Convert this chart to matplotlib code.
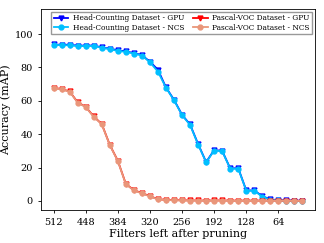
import numpy as np
import matplotlib
matplotlib.use("Agg")
import matplotlib.pyplot as plt

plt.rcParams['font.family'] = 'DejaVu Serif'

# filters left after pruning (x axis is inverted)
filters = list(range(512, 0, -16))

head_gpu = [93.8, 93.5, 93.6, 93.0, 93.1, 93.1, 92.0, 91.2, 90.3, 89.6, 88.6, 87.4,
            83.4, 78.6, 68.0, 60.6, 51.6, 45.8, 34.1, 23.3, 30.5, 30.0, 19.5, 19.6,
            6.3, 6.3, 2.8, 1.0, 0.4, 0.3, 0.2, 0.1]
head_ncs = [93.6, 93.3, 93.3, 92.8, 92.9, 92.9, 91.8, 90.9, 89.9, 89.3, 88.3, 87.1,
            83.1, 77.4, 67.8, 60.3, 51.4, 45.5, 33.8, 23.1, 30.2, 29.8, 19.3, 19.3,
            6.1, 6.1, 2.5, 0.8, 0.3, 0.2, 0.1, 0.0]
voc_gpu = [67.8, 67.0, 65.6, 59.1, 56.4, 50.6, 46.1, 33.6, 24.1, 10.2, 6.5, 4.7,
           2.9, 1.0, 0.7, 0.5, 0.4, 0.3, 0.3, 0.2, 0.3, 0.3, 0.2, 0.2,
           0.2, 0.2, 0.2, 0.2, 0.2, 0.2, 0.1, 0.1]
voc_ncs = [67.6, 66.8, 65.4, 58.9, 56.2, 50.4, 45.9, 33.4, 23.9, 10.0, 6.3, 4.5,
           2.7, 0.9, 0.6, 0.4, 0.3, 0.2, 0.2, 0.1, 0.2, 0.2, 0.1, 0.1,
           0.1, 0.1, 0.1, 0.1, 0.1, 0.1, 0.0, 0.0]

xticks = [512, 448, 384, 320, 256, 192, 128, 64]

fig, ax = plt.subplots(figsize=(3.24, 2.43), dpi=100)
ax.plot(filters, head_gpu, marker='v', color='blue', lw=1.3, ms=3.5, label='Head-Counting Dataset - GPU')
ax.plot(filters, head_ncs, marker='o', color='deepskyblue', lw=1.3, ms=3.5, label='Head-Counting Dataset - NCS')
ax.plot(filters, voc_gpu, marker='v', color='red', lw=1.3, ms=3.5, label='Pascal-VOC Dataset - GPU')
ax.plot(filters, voc_ncs, marker='o', color='darksalmon', lw=1.3, ms=3.5, label='Pascal-VOC Dataset - NCS')

ax.set_xlim(536.8, -8.8)
ax.set_ylim(-5.4, 115)
ax.set_xticks(xticks)
ax.set_yticks([0, 20, 40, 60, 80, 100])
ax.tick_params(labelsize=7, length=2.5, width=0.6)
for s in ax.spines.values():
    s.set_linewidth(0.6)
ax.set_xlabel('Filters left after pruning', fontsize=8, labelpad=1)
ax.set_ylabel('Accuracy (mAP)', fontsize=8, labelpad=2)
ax.legend(loc='upper right', ncol=2, fontsize=5.3, borderaxespad=0.4,
          handlelength=2.0, columnspacing=1.2, labelspacing=0.2, borderpad=0.3,
          handletextpad=0.6, fancybox=False, framealpha=1, edgecolor='0.6')

fig.subplots_adjust(left=0.127, right=0.972, top=0.963, bottom=0.136)
fig.savefig('out.png', dpi=100)
